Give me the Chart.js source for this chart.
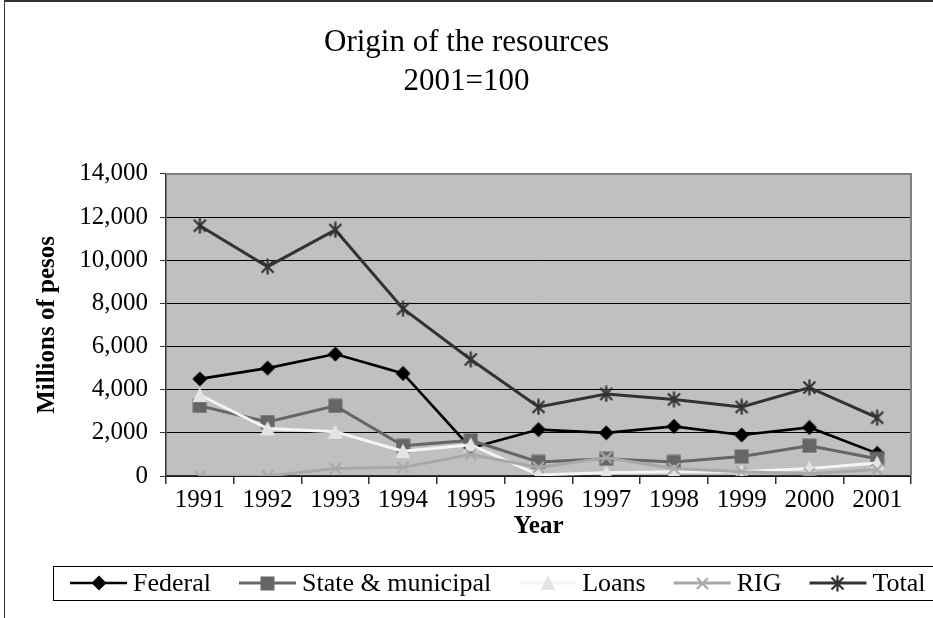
<!DOCTYPE html>
<html><head><meta charset="utf-8">
<script src="https://cdn.jsdelivr.net/npm/chart.js@4/dist/chart.umd.min.js"></script>
<style>html,body{margin:0;padding:0;background:#fff;overflow:hidden}#wrap{position:relative;width:933px;height:618px}</style>
</head><body><div id="wrap"><canvas id="c" width="933" height="618"></canvas></div>
<script>
// ---- data ----
const titleLines = ['Origin of the resources', '2001=100'];
const years = ['1991','1992','1993','1994','1995','1996','1997','1998','1999','2000','2001'];
const federal        = [4500, 5000, 5650, 4750, 1300, 2150, 2000, 2300, 1900, 2250, 1050];
const stateMunicipal = [3250, 2500, 3250, 1400, 1650,  650,  800,  650,  900, 1400,  800];
const loans          = [3750, 2200, 2050, 1150, 1450,   50,  150,  200,  200,  350,  600];
const rig            = [   0,    0,  350,  400, 1000,  400,  850,  350,  200,  100,  300];
const total          = [11600, 9700, 11400, 7750, 5400, 3200, 3800, 3550, 3200, 4100, 2700];
const yTickLabels = ['0','2,000','4,000','6,000','8,000','10,000','12,000','14,000'];
const seriesNames = ['Federal','State & municipal','Loans','RIG','Total'];
const xTitle = 'Year';
const yTitle = 'Millions of pesos';

const FONT = 'Liberation Serif, Times New Roman, serif';

function makeMarker(kind, color, size) {
  const c = document.createElement('canvas');
  c.width = size; c.height = size;
  const g = c.getContext('2d');
  const h = size / 2;
  g.fillStyle = color; g.strokeStyle = color;
  g.beginPath();
  if (kind === 'diamond') {
    g.moveTo(h, 0.5); g.lineTo(size - 0.5, h); g.lineTo(h, size - 0.5); g.lineTo(0.5, h); g.closePath(); g.fill();
  } else if (kind === 'square') {
    g.fillRect(0.5, 0.5, size - 1, size - 1);
  } else if (kind === 'triangle') {
    g.moveTo(h, 0.5); g.lineTo(size - 0.5, size - 1); g.lineTo(0.5, size - 1); g.closePath(); g.fill();
  } else if (kind === 'x') {
    g.lineWidth = 2.2;
    g.moveTo(2, 2); g.lineTo(size - 2, size - 2); g.moveTo(size - 2, 2); g.lineTo(2, size - 2); g.stroke();
  } else if (kind === 'star') {
    g.lineWidth = 2.2;
    g.moveTo(2.5, 2.5); g.lineTo(size - 2.5, size - 2.5); g.moveTo(size - 2.5, 2.5); g.lineTo(2.5, size - 2.5);
    g.moveTo(h, 0.5); g.lineTo(h, size - 0.5); g.stroke();
  }
  return c;
}

const styles = [
  {line: '#000000', width: 2.6, marker: makeMarker('diamond', '#000000', 16)},
  {line: '#666666', width: 3, marker: makeMarker('square', '#666666', 15)},
  {line: '#f4f4f4', width: 3, marker: makeMarker('triangle', '#e4e4e4', 16)},
  {line: '#a8a8a8', width: 3, marker: makeMarker('x', '#a8a8a8', 15)},
  {line: '#333333', width: 3, marker: makeMarker('star', '#333333', 17)}
];
const seriesData = [federal, stateMunicipal, loans, rig, total];

const datasets = seriesData.map((d, i) => ({
  label: seriesNames[i],
  data: d,
  borderColor: styles[i].line,
  backgroundColor: styles[i].line,
  borderWidth: styles[i].width,
  pointStyle: styles[i].marker,
  pointRadius: 8,
  tension: 0,
  fill: false,
  order: 4 - i
}));

const framePlugin = {
  id: 'frame',
  beforeDraw(chart) {
    const {ctx, chartArea: a} = chart;
    ctx.save();
    ctx.fillStyle = '#fff';
    ctx.fillRect(0, 0, chart.width, chart.height);
    ctx.fillStyle = '#c0c0c0';
    ctx.fillRect(a.left, a.top, a.right - a.left, a.bottom - a.top);
    // outer frame
    ctx.strokeStyle = '#333';
    ctx.lineWidth = 2;
    ctx.beginPath(); ctx.moveTo(4, 1); ctx.lineTo(chart.width, 1); ctx.stroke();
    ctx.lineWidth = 1;
    ctx.beginPath(); ctx.moveTo(4.5, 0); ctx.lineTo(4.5, chart.height); ctx.stroke();
    ctx.restore();
  },
  beforeDatasetsDraw(chart) {
    const {ctx, chartArea: a} = chart;
    ctx.save();
    ctx.strokeStyle = '#808080';
    ctx.lineWidth = 2;
    ctx.beginPath(); ctx.moveTo(a.left, a.top); ctx.lineTo(a.right, a.top); ctx.lineTo(a.right, a.bottom); ctx.stroke();
    ctx.restore();
  },
  afterDraw(chart) {
    const ctx = chart.ctx;
    ctx.save();
    // legend box (extends past right edge of the picture, as in the original)
    const bx = 53, by = 566, bw = 900, bh = 34;
    ctx.strokeStyle = '#000'; ctx.lineWidth = 1;
    ctx.strokeRect(bx + 0.5, by + 0.5, bw, bh);
    ctx.font = '26px ' + FONT;
    ctx.textBaseline = 'middle';
    const cy = by + bh / 2;
    const lineLen = 57, textGap = 6, itemGap = 28;
    let x = 70;
    seriesNames.forEach((n, i) => {
      const s = styles[i];
      ctx.strokeStyle = s.line; ctx.lineWidth = s.width;
      ctx.beginPath(); ctx.moveTo(x, cy); ctx.lineTo(x + lineLen, cy); ctx.stroke();
      const m = s.marker;
      ctx.drawImage(m, Math.round(x + lineLen / 2 - m.width / 2), Math.round(cy - m.height / 2));
      ctx.fillStyle = '#000';
      ctx.fillText(n, x + lineLen + textGap, cy + 1);
      x += lineLen + textGap + ctx.measureText(n).width + itemGap;
    });
    ctx.restore();
  }
};

new Chart(document.getElementById('c'), {
  type: 'line',
  data: {labels: years, datasets},
  plugins: [framePlugin],
  options: {
    responsive: false,
    devicePixelRatio: 1,
    animation: false,
    events: [],
    layout: {padding: {left: 22, right: 22, top: 0, bottom: 72}},
    plugins: {
      legend: {display: false},
      tooltip: {enabled: false},
      title: {
        display: true, text: titleLines, color: '#000',
        font: {family: FONT, size: 31, weight: 'normal', lineHeight: 1.24},
        padding: {top: 24, bottom: 73}
      }
    },
    scales: {
      x: {
        type: 'category', offset: true,
        grid: {display: true, drawOnChartArea: false, drawTicks: true, tickLength: 8, color: '#333', offset: true, lineWidth: 1.5},
        border: {display: true, color: '#333', width: 1.5},
        ticks: {color: '#000', font: {family: FONT, size: 25}, padding: 1, maxRotation: 0, autoSkip: false},
        title: {display: true, text: xTitle, color: '#000', font: {family: FONT, size: 25, weight: 'bold'}, padding: {top: 0, bottom: 4}},
        afterFit(s) { s.height = 70; }
      },
      y: {
        min: 0, max: 14000,
        ticks: {stepSize: 2000, color: '#000', font: {family: FONT, size: 25}, padding: 12,
                callback: (v, i) => yTickLabels[i]},
        grid: {color: '#000', lineWidth: 1, tickLength: 6, tickColor: '#333', drawTicks: true},
        border: {display: true, color: '#333', width: 1.5},
        title: {display: true, text: yTitle, color: '#000', font: {family: FONT, size: 25, weight: 'bold'}, padding: {top: 11, bottom: 0}},
        afterFit(s) { s.width = 144; }
      }
    }
  }
});
</script>
</body></html>
